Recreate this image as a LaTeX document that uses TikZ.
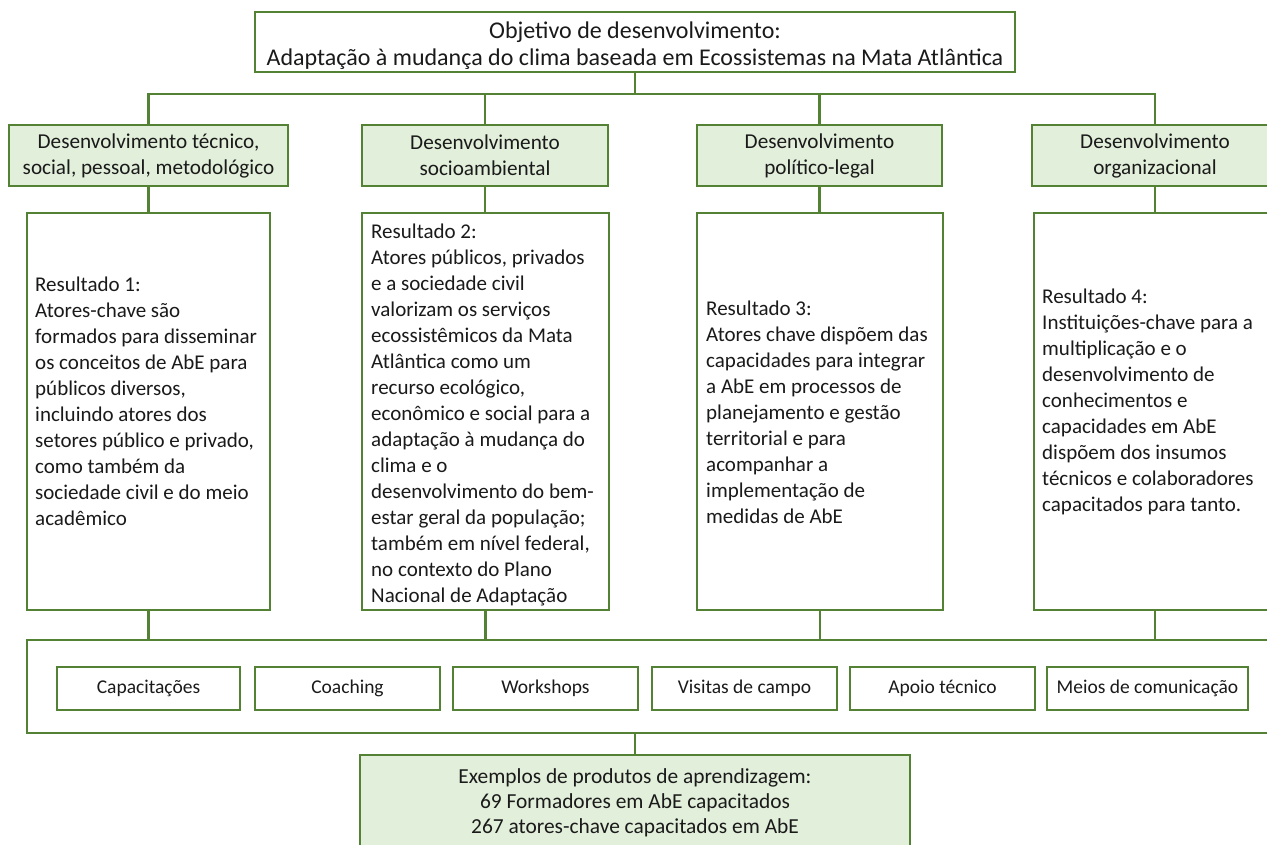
\documentclass[tikz,border=0pt]{standalone}
\usepackage{fontspec}
\setmainfont{Carlito}
\definecolor{gborder}{HTML}{548235}
\definecolor{gfill}{HTML}{E2EFDA}
\definecolor{txt}{HTML}{1A1A1A}
\tikzset{
  base/.style={draw=gborder, line width=2.4pt, text=txt, inner sep=0pt},
  greenbox/.style={base, fill=gfill, align=center, font=\fontsize{21.2}{26}\selectfont},
  whitebox/.style={base, fill=white, align=center, font=\fontsize{19.5}{24}\selectfont},
  resbox/.style={base, fill=white},
  restext/.style={text=txt, inner sep=0pt, align=left, anchor=west, font=\fontsize{21}{26}\selectfont},
  conn/.style={draw=gborder, line width=2.4pt},
}
\begin{document}
\begin{tikzpicture}[x=1pt,y=-1pt]
\useasboundingbox (0,0) rectangle (1267,844);
\clip (0,0) rectangle (1267,844);
% top
\node[base, fill=white, minimum width=760pt, minimum height=60pt] (top) at (635,42) {};
\node[text=txt, inner sep=0pt, align=center, font=\fontsize{24}{27}\selectfont] (topt) at (635,45.5)
  {Objetivo de desenvolvimento:\\Adaptação à mudança do clima baseada em Ecossistemas na Mata Atlântica};
% level 2
\node[greenbox, minimum width=279pt, minimum height=61pt] (d1) at (148.5,155.5)
  {Desenvolvimento técnico,\\social, pessoal, metodológico};
\node[greenbox, minimum width=246pt, minimum height=61pt] (d2) at (485,155.5)
  {Desenvolvimento\\socioambiental};
\node[greenbox, minimum width=245pt, minimum height=61pt] (d3) at (819.5,155.5)
  {Desenvolvimento\\político-legal};
\node[greenbox, minimum width=246pt, minimum height=61pt] (d4) at (1155,155.5)
  {Desenvolvimento\\organizacional};
% results
\node[resbox, minimum width=243pt, minimum height=397pt] (r1) at (148.5,411.5) {};
\node[resbox, minimum width=247pt, minimum height=397pt] (r2) at (485.5,411.5) {};
\node[resbox, minimum width=246pt, minimum height=397pt] (r3) at (820,411.5) {};
\node[resbox, minimum width=242pt, minimum height=397pt] (r4) at (1155,411.5) {};
\node[restext] (t1) at (35,401)
  {Resultado 1:\\Atores-chave são\\formados para disseminar\\os conceitos de AbE para\\públicos diversos,\\incluindo atores dos\\setores público e privado,\\como também da\\sociedade civil e do meio\\acadêmico};
\node[restext] (t2) at (371,415)
  {Resultado 2:\\Atores públicos, privados\\e a sociedade civil\\valorizam os serviços\\ecossistêmicos da Mata\\Atlântica como um\\recurso ecológico,\\econômico e social para a\\adaptação à mudança do\\clima e o\\desenvolvimento do bem-\\estar geral da população;\\também em nível federal,\\no contexto do Plano\\Nacional de Adaptação};
\node[restext] (t3) at (706,412)
  {Resultado 3:\\Atores chave dispõem das\\capacidades para integrar\\a AbE em processos de\\planejamento e gestão\\territorial e para\\acompanhar a\\implementação de\\medidas de AbE};
\node[restext] (t4) at (1042,402)
  {Resultado 4:\\Instituições-chave para a\\multiplicação e o\\desenvolvimento de\\conhecimentos e\\capacidades em AbE\\dispõem dos insumos\\técnicos e colaboradores\\capacitados para tanto.};
% container
\node[base, fill=white, minimum width=1263pt, minimum height=93pt] (acts) at (658.5,686.5) {};
\node[whitebox, minimum width=183pt, minimum height=43pt] (a1) at (148.5,688.5) {Capacitações};
\node[whitebox, minimum width=185pt, minimum height=43pt] (a2) at (347.5,688.5) {Coaching};
\node[whitebox, minimum width=185pt, minimum height=43pt] (a3) at (545.5,688.5) {Workshops};
\node[whitebox, minimum width=185pt, minimum height=43pt] (a4) at (744.5,688.5) {Visitas de campo};
\node[whitebox, minimum width=185pt, minimum height=43pt] (a5) at (942.5,688.5) {Apoio técnico};
\node[whitebox, minimum width=201pt, minimum height=43pt] (a6) at (1147.5,688.5) {Meios de comunicação};
% product
\node[greenbox, font=\fontsize{21.4}{25}\selectfont, minimum width=550pt, minimum height=95pt] (prod) at (635,802.5)
  {Exemplos de produtos de aprendizagem:\\69 Formadores em AbE capacitados\\267 atores-chave capacitados em AbE};
% connectors
\coordinate (bus) at (635,94);
\draw[conn] (top.south) -- (bus);
\draw[conn] (d1.north) |- (bus) -| (d4.north);
\draw[conn] (d2.north) -- (d2.north |- bus);
\draw[conn] (d3.north) -- (d3.north |- bus);
\foreach \i in {1,2,3,4} {
  \draw[conn] (d\i.south) -- (d\i.south |- r\i.north);
  \draw[conn] (r\i.south) -- (r\i.south |- acts.north);
}
\draw[conn] (acts.south -| prod.north) -- (prod.north);
\end{tikzpicture}
\end{document}
